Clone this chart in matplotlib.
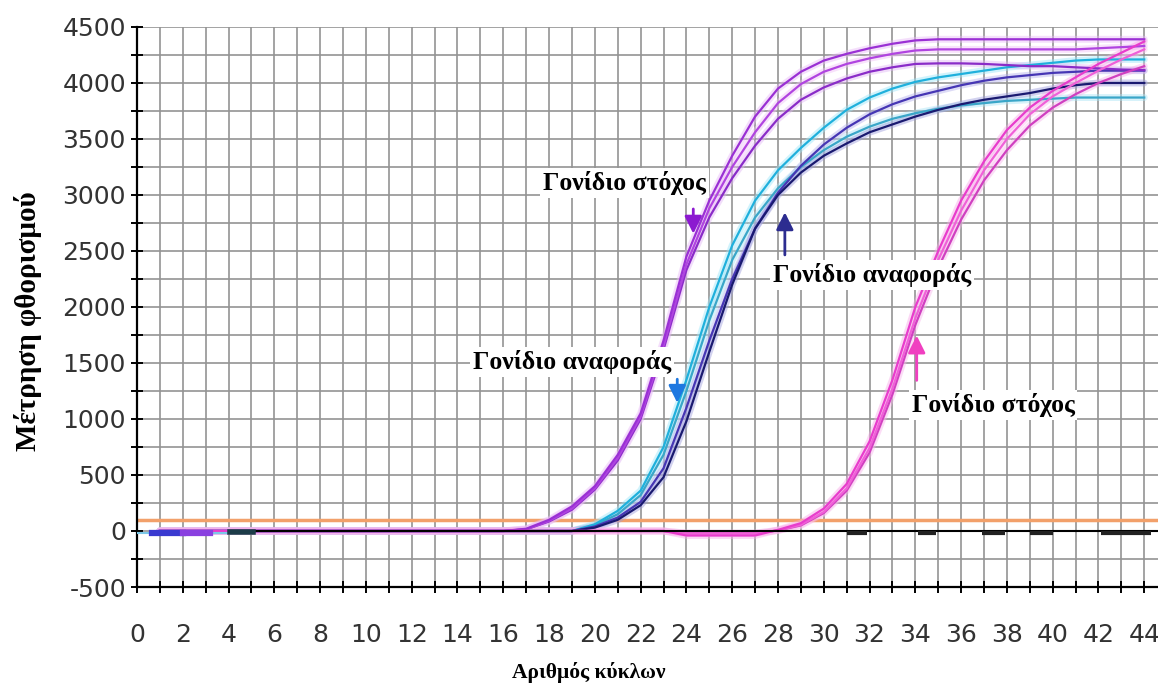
import matplotlib
matplotlib.use("Agg")
import matplotlib.pyplot as plt
from matplotlib.ticker import MultipleLocator

plt.rcParams['axes.unicode_minus'] = False

# Κύκλοι PCR και τιμές φθορισμού (εκτίμηση από την εικόνα)
cycles = list(range(1, 45))

# Γονίδιο στόχος (πρώιμη ενίσχυση)
target_a = [0] * 16 + [20, 100, 220, 400, 680, 1050, 1700, 2450, 2950, 3350, 3700, 3950, 4100, 4200,
                       4260, 4310, 4350, 4380, 4390, 4390, 4390, 4390, 4390, 4390, 4390, 4390, 4390, 4390]
target_b = [0] * 16 + [15, 90, 200, 380, 650, 1020, 1650, 2380, 2880, 3250, 3560, 3820, 3990, 4100,
                       4170, 4220, 4260, 4290, 4300, 4300, 4300, 4300, 4300, 4300, 4300, 4310, 4320, 4330]
target_c = [0] * 16 + [15, 85, 190, 370, 630, 1000, 1620, 2330, 2800, 3150, 3440, 3680, 3850, 3960,
                       4040, 4100, 4140, 4170, 4175, 4175, 4170, 4160, 4150, 4150, 4140, 4130, 4120, 4115]

# Γονίδιο αναφοράς
ref_a = [0] * 19 + [60, 180, 360, 750, 1350, 2000, 2550, 2950, 3220, 3420, 3600, 3760, 3870, 3950,
                    4010, 4050, 4080, 4110, 4140, 4160, 4180, 4200, 4210, 4210, 4210]
ref_b = [0] * 19 + [50, 150, 320, 680, 1250, 1880, 2420, 2800, 3060, 3250, 3400, 3520, 3610, 3680,
                    3730, 3770, 3800, 3820, 3840, 3850, 3860, 3870, 3870, 3870, 3870]
ref_c = [0] * 19 + [40, 120, 260, 560, 1100, 1700, 2250, 2700, 3020, 3260, 3450, 3600, 3720, 3810,
                    3880, 3930, 3980, 4020, 4050, 4070, 4090, 4100, 4110, 4110, 4110]
ref_d = [0] * 19 + [30, 100, 230, 480, 980, 1600, 2200, 2700, 3000, 3200, 3350, 3460, 3560, 3630,
                    3700, 3760, 3810, 3850, 3880, 3910, 3950, 3980, 4000, 4000, 4000]

# Γονίδιο στόχος (όψιμη ενίσχυση)
late_a = [0] * 23 + [-40, -40, -40, -40, 10, 70, 200, 420, 800, 1350, 2000, 2500, 2950, 3300,
                     3580, 3780, 3930, 4050, 4170, 4270, 4370]
late_b = [0] * 23 + [-20, -20, -20, -20, 5, 55, 170, 380, 740, 1270, 1900, 2420, 2860, 3220,
                     3500, 3720, 3880, 4000, 4110, 4210, 4300]
late_c = [0] * 23 + [-20, -20, -20, -20, 5, 50, 160, 360, 700, 1220, 1840, 2350, 2780, 3130,
                     3400, 3620, 3780, 3900, 4000, 4080, 4150]

threshold = 100

# Αρνητικός μάρτυρας: γραμμή στο 0 με μικρές σκούρες παύλες
ntc_start, ntc_end = 4.0, 44.6
dash_start = [31.0, 34.1, 36.9, 39.0, 42.1]
dash_end = [31.9, 34.9, 37.9, 40.0, 44.3]
dash_value = -20

xticks = list(range(0, 45, 2))
yticks = list(range(-500, 4501, 500))


def draw_curve(ax, values, color, halo):
    ax.plot(cycles, values, color=halo, lw=5, alpha=0.45, solid_capstyle='round',
            solid_joinstyle='round', zorder=3)
    ax.plot(cycles, values, color=color, lw=1.6, solid_joinstyle='round', zorder=4)


fig = plt.figure(figsize=(11.58, 6.88), dpi=100)
ax = fig.add_axes([0.1183, 0.1468, 0.8817, 0.814])

ax.set_xlim(0, 44.6)
ax.set_ylim(-500, 4500)
ax.xaxis.set_major_locator(MultipleLocator(2))
ax.xaxis.set_minor_locator(MultipleLocator(1))
ax.yaxis.set_major_locator(MultipleLocator(500))
ax.yaxis.set_minor_locator(MultipleLocator(250))
ax.set_xticks(xticks)
ax.set_yticks(yticks)
ax.grid(which='both', color='#939393', lw=1.2, zorder=0)
ax.set_axisbelow(True)
for side in ['top', 'right']:
    ax.spines[side].set_visible(False)
for side in ['left', 'bottom']:
    ax.spines[side].set_color('black')
    ax.spines[side].set_linewidth(1.6)
ax.tick_params(which='both', direction='inout', length=8, width=1.4, color='black')
ax.tick_params(axis='x', pad=22, labelsize=18, labelcolor='#333333')
ax.tick_params(axis='y', pad=4, labelsize=18, labelcolor='#333333')

# Κατώφλι
ax.axhline(threshold, color='#f2a06a', lw=2.5, zorder=2)

# Καμπύλες
draw_curve(ax, ref_b, '#3aa6c8', '#a8e4f4')
draw_curve(ax, ref_a, '#1fb0dc', '#9ae6fa')
draw_curve(ax, ref_c, '#4636b4', '#b4b0ec')
draw_curve(ax, ref_d, '#1a1a70', '#9c9cdc')
draw_curve(ax, target_c, '#8a2cc8', '#e0b4f4')
draw_curve(ax, target_b, '#b044e0', '#f0c0f8')
draw_curve(ax, target_a, '#9a30d4', '#e8b8f8')
draw_curve(ax, late_c, '#d040c0', '#f8b4ec')
draw_curve(ax, late_b, '#f060d8', '#fcc0f0')
draw_curve(ax, late_a, '#e83ccc', '#f8a8e8')

# Βασική γραμμή και αρχικά τμήματα
ax.plot([ntc_start, ntc_end], [0, 0], color='black', lw=1.5, zorder=5)
ax.hlines([dash_value] * len(dash_start), dash_start, dash_end, color='#222222', lw=3, zorder=5)
ax.plot([0.65, 2.0], [-18, -18], color='#3a3ad0', lw=4.5, zorder=5)
ax.plot([2.0, 3.2], [-18, -18], color='#8a40e0', lw=4.5, zorder=5)
ax.plot([0.0, 4.1], [-15, -15], color='#7cc8e8', lw=1.5, zorder=4)
ax.plot([4.06, 5.07], [-10, -10], color='#1c3c48', lw=4, zorder=5)

# Ετικέτες με βέλη
label_font = dict(family='Liberation Serif', weight='bold', size=18.5, color='black')
box = dict(facecolor='white', edgecolor='none', pad=2)
arrow_style = dict(arrowstyle='-|>', lw=2, mutation_scale=26)

ax.text(21.3, 3107, 'Γονίδιο στόχος', ha='center', va='center', bbox=box, zorder=6, **label_font)
ax.annotate('', xy=(24.3, 2630), xytext=(24.3, 2900), zorder=7,
            arrowprops=dict(color='#8c1ad0', **arrow_style))

ax.text(32.1, 2286, 'Γονίδιο αναφοράς', ha='center', va='center', bbox=box, zorder=6, **label_font)
ax.annotate('', xy=(28.3, 2870), xytext=(28.3, 2440), zorder=7,
            arrowprops=dict(color='#2c2c90', **arrow_style))

ax.text(19.0, 1509, 'Γονίδιο αναφοράς', ha='center', va='center', bbox=box, zorder=6, **label_font)
ax.annotate('', xy=(23.6, 1120), xytext=(23.6, 1380), zorder=7,
            arrowprops=dict(color='#1e78e0', **arrow_style))

ax.text(37.4, 1125, 'Γονίδιο στόχος', ha='center', va='center', bbox=box, zorder=6, **label_font)
ax.annotate('', xy=(34.06, 1770), xytext=(34.06, 1320), zorder=7,
            arrowprops=dict(color='#f040c0', **arrow_style))

fig.text(0.508, 0.023, 'Αριθμός κύκλων', ha='center', va='center',
         family='Liberation Serif', weight='bold', size=15.5)
fig.text(0.024, 0.533, 'Μέτρηση φθορισμού', ha='center', va='center', rotation=90,
         family='Liberation Serif', weight='bold', size=21)

fig.savefig('out.png', dpi=100, facecolor='white')
